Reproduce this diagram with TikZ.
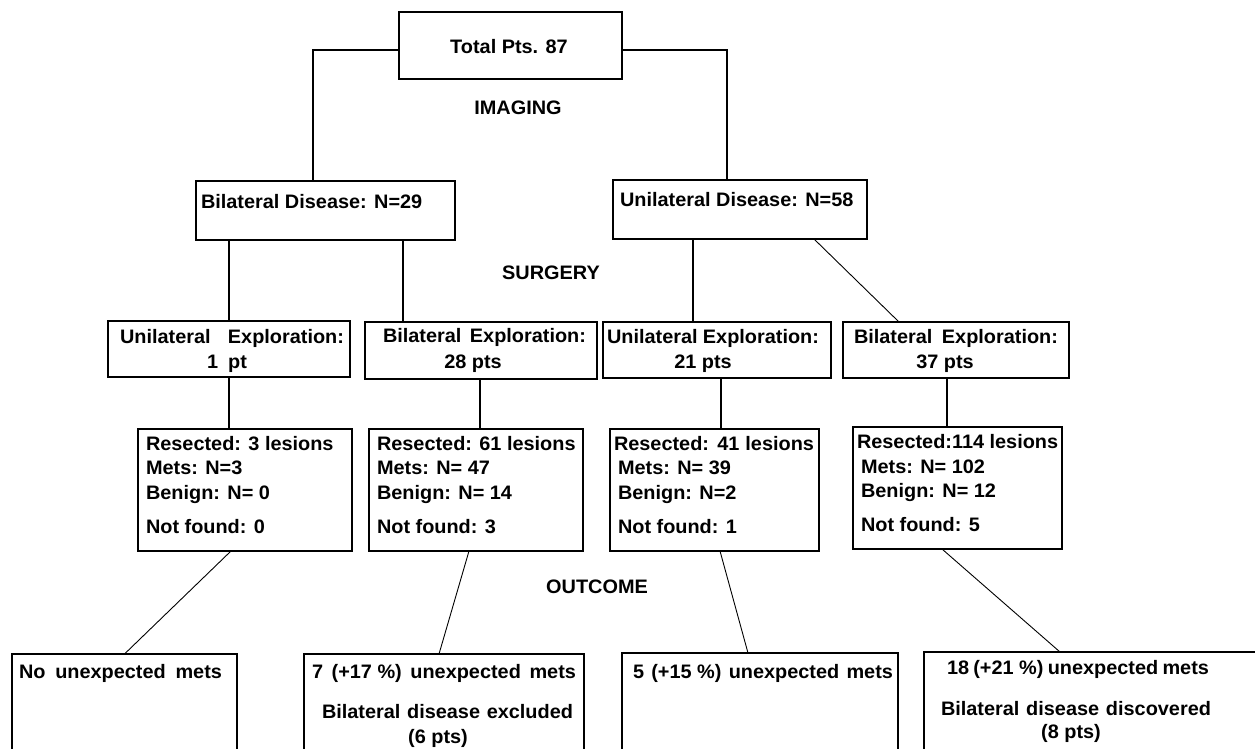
\documentclass[tikz,border=0pt]{standalone}
\usepackage{fontspec}
\setmainfont{Liberation Sans}[FakeStretch=1.02]
\begin{document}
\begin{tikzpicture}[x=1pt,y=-1pt,
  box/.style={draw=black,line width=1.5pt,rectangle,inner sep=0pt,outer sep=0pt},
  conn/.style={draw=black,line width=1.5pt},
  diag/.style={draw=black,line width=0.9pt},
  txt/.style={inner sep=0pt,outer sep=0pt,text=black,font=\fontsize{19.5}{22}\selectfont\bfseries}]
\useasboundingbox (0,0) rectangle (1255,749);
\clip (0,0) rectangle (1255,749);
\fill[white] (0,0) rectangle (1255,749);
% boxes
\node[box,minimum width=223pt,minimum height=67pt] (top) at (510.5,45.5) {};
\node[box,minimum width=259pt,minimum height=59pt] (bil) at (325.5,210.5) {};
\node[box,minimum width=254pt,minimum height=59pt] (uni) at (740,209.5) {};
\node[box,minimum width=242pt,minimum height=56pt] (exp1) at (229,349) {};
\node[box,minimum width=232pt,minimum height=57pt] (exp2) at (481,350.5) {};
\node[box,minimum width=228pt,minimum height=56pt] (exp3) at (717,350) {};
\node[box,minimum width=226pt,minimum height=56pt] (exp4) at (956,350) {};
\node[box,minimum width=214pt,minimum height=122pt] (res1) at (245,490) {};
\node[box,minimum width=214pt,minimum height=122pt] (res2) at (476,490) {};
\node[box,minimum width=209pt,minimum height=122pt] (res3) at (714.5,490) {};
\node[box,minimum width=209pt,minimum height=122pt] (res4) at (957.5,488) {};
\node[box,minimum width=225pt,minimum height=116pt] (out1) at (124.5,712) {};
\node[box,minimum width=280pt,minimum height=116pt] (out2) at (444,712) {};
\node[box,minimum width=276pt,minimum height=117pt] (out3) at (760,711.5) {};
\node[box,minimum width=346pt,minimum height=118pt] (out4) at (1097,711) {};
% connectors
\draw[conn] ([yshift=-4.5pt]top.west) -| ([xshift=-12.5pt]bil.north);
\draw[conn] ([yshift=-4.5pt]top.east) -| ([xshift=-13pt]uni.north);
\draw[conn] (exp1.north) -- (exp1.north |- bil.south);
\path ([xshift=-78pt]exp2.north) coordinate (e2n);
\draw[conn] (e2n) -- (e2n |- bil.south);
\path ([xshift=-24pt]exp3.north) coordinate (e3n);
\draw[conn] (e3n) -- (e3n |- uni.south);
\draw[diag] ([xshift=74pt]uni.south) -- ([xshift=-57pt]exp4.north);
\draw[conn] (exp1.south) -- (exp1.south |- res1.north);
\path ([xshift=-1pt]exp2.south) coordinate (e2s);
\draw[conn] (e2s) -- (e2s |- res2.north);
\path ([xshift=4pt]exp3.south) coordinate (e3s);
\draw[conn] (e3s) -- (e3s |- res3.north);
\path ([xshift=-9pt]exp4.south) coordinate (e4s);
\draw[conn] (e4s) -- (e4s |- res4.north);
\draw[diag] ([xshift=-14pt]res1.south) -- (out1.north);
\draw[diag] ([xshift=-7pt]res2.south) -- ([xshift=-5pt]out2.north);
\draw[diag] ([xshift=5.5pt]res3.south) -- ([xshift=-12pt]out3.north);
\draw[diag] ([xshift=-15.5pt]res4.south) -- ([xshift=-37pt]out4.north);
% texts
\node[txt,anchor=base] (tTop) at (509,53.5) {Total Pts. 87};
\node[txt,anchor=base] (tImg) at (518,114.5) {IMAGING};
\node[txt,anchor=base west] (tBil) at (201,208.5) {Bilateral Disease: N=29};
\node[txt,anchor=base west] (tUni) at (620,206.5) {Unilateral Disease: N=58};
\node[txt,anchor=base] (tSur) at (551,279.5) {SURGERY};
\node[txt,anchor=base] (tOut) at (597,593.5) {OUTCOME};
\node[txt,anchor=base west] (tE1a) at (120,343.5) {\makebox[224pt][s]{Unilateral Exploration:}};
\node[txt,anchor=base west] (tE1b) at (207,368.5) {\makebox[40pt][s]{1 pt}};
\node[txt,anchor=base west] (tE2a) at (383,342.5) {\makebox[203pt][s]{Bilateral Exploration:}};
\node[txt,anchor=base] (tE2b) at (473,368.5) {28 pts};
\node[txt,anchor=base west] (tE3a) at (607,343.5) {\makebox[212pt][s]{Unilateral Exploration:}};
\node[txt,anchor=base] (tE3b) at (703,368.5) {21 pts};
\node[txt,anchor=base west] (tE4a) at (854,343.5) {\makebox[204pt][s]{Bilateral Exploration:}};
\node[txt,anchor=base] (tE4b) at (945,368.5) {37 pts};
% resected 1
\node[txt,anchor=base west] (tR1a) at (146,450.5) {Resected: 3 lesions};
\node[txt,anchor=base west] (tR1b) at (146,474.5) {Mets: N=3};
\node[txt,anchor=base west] (tR1c) at (146,499.5) {Benign: N= 0};
\node[txt,anchor=base west] (tR1d) at (146,533.5) {Not found: 0};
% resected 2
\node[txt,anchor=base west] (tR2a) at (377,450.5) {Resected: 61 lesions};
\node[txt,anchor=base west] (tR2b) at (377,474.5) {Mets: N= 47};
\node[txt,anchor=base west] (tR2c) at (377,499.5) {Benign: N= 14};
\node[txt,anchor=base west] (tR2d) at (377,533.5) {Not found: 3};
% resected 3
\node[txt,anchor=base west] (tR3a) at (614,450.5) {\makebox[200pt][s]{Resected: 41 lesions}};
\node[txt,anchor=base west] (tR3b) at (618,474.5) {Mets: N= 39};
\node[txt,anchor=base west] (tR3c) at (618,499.5) {Benign: N=2};
\node[txt,anchor=base west] (tR3d) at (618,533.5) {Not found: 1};
% resected 4
\node[txt,anchor=base west] (tR4a) at (857,448.5) {Resected:114 lesions};
\node[txt,anchor=base west] (tR4b) at (861,473.5) {Mets: N= 102};
\node[txt,anchor=base west] (tR4c) at (861,497.5) {Benign: N= 12};
\node[txt,anchor=base west] (tR4d) at (861,531.5) {Not found: 5};
% outcomes
\node[txt,anchor=base west] (tO1) at (19,678.5) {\makebox[203pt][s]{No unexpected mets}};
\node[txt,anchor=base west] (tO2a) at (312,678.5) {\makebox[264pt][s]{7 \mbox{(+17 \%)} unexpected mets}};
\node[txt,anchor=base west] (tO2b) at (322,718.5) {\makebox[251pt][s]{Bilateral disease excluded}};
\node[txt,anchor=base] (tO2c) at (438,743.5) {(6 pts)};
\node[txt,anchor=base west] (tO3) at (633,678.5) {\makebox[260pt][s]{5 \mbox{(+15 \%)} unexpected mets}};
\node[txt,anchor=base west] (tO4a) at (947,674.5) {\makebox[262pt][s]{18 \mbox{(+21 \%)} unexpected mets}};
\node[txt,anchor=base west] (tO4b) at (941,715.5) {\makebox[270pt][s]{Bilateral disease discovered}};
\node[txt,anchor=base] (tO4c) at (1071,738.5) {(8 pts)};
\end{tikzpicture}
\end{document}
